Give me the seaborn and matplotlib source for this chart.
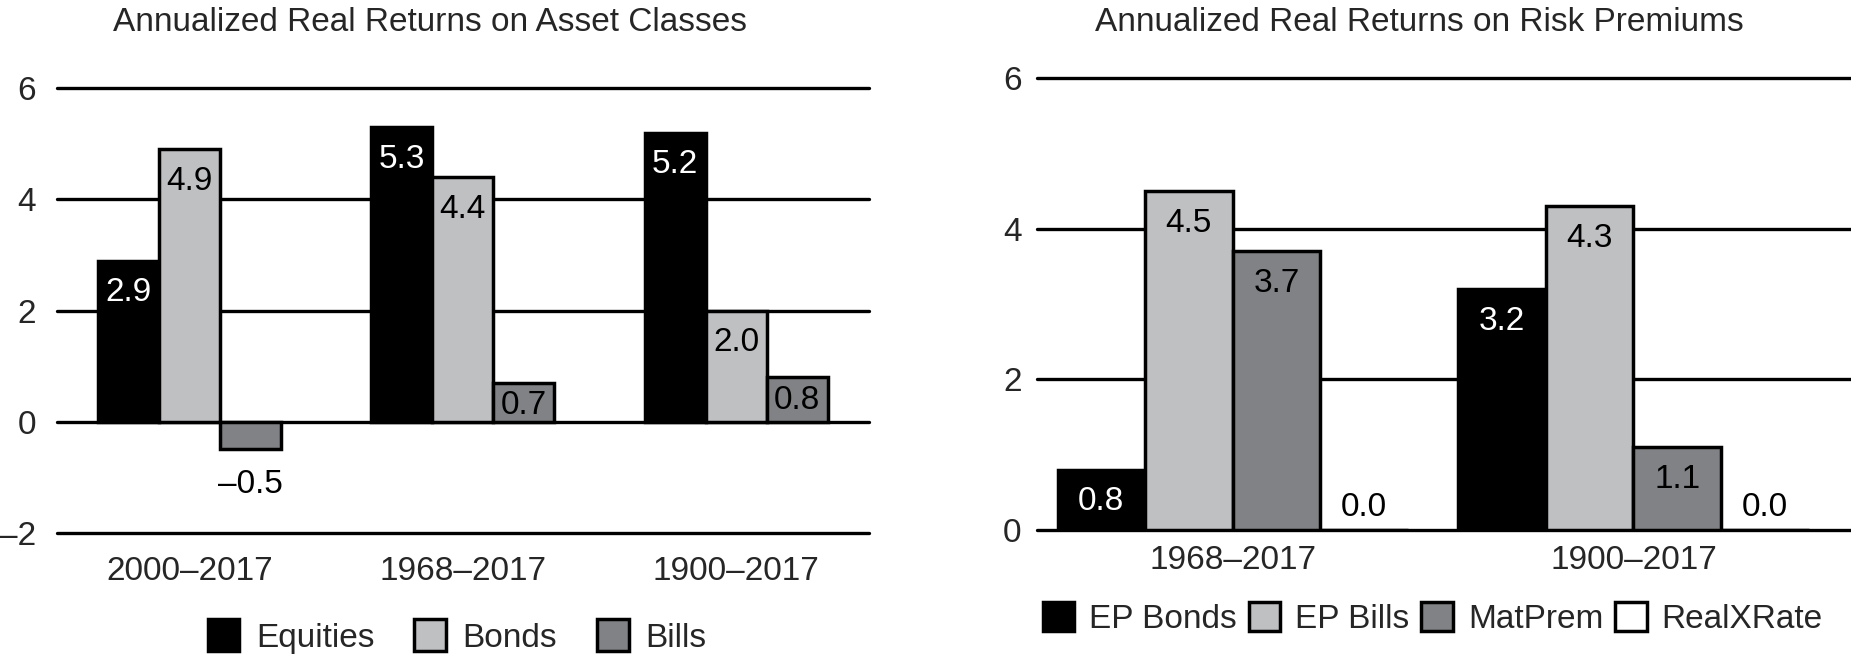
import pandas as pd
import matplotlib
matplotlib.use("Agg")
import matplotlib.pyplot as plt
from matplotlib.patches import Patch
import seaborn as sns

# ---------------------------------- DATA ----------------------------------
asset_periods = ["2000–2017", "1968–2017", "1900–2017"]
asset_series = ["Equities", "Bonds", "Bills"]
equities = [2.9, 5.3, 5.2]
bonds = [4.9, 4.4, 2.0]
bills = [-0.5, 0.7, 0.8]
asset_ticks = [-2, 0, 2, 4, 6]

premium_periods = ["1968–2017", "1900–2017"]
premium_series = ["EP Bonds", "EP Bills", "MatPrem", "RealXRate"]
ep_bonds = [0.8, 3.2]
ep_bills = [4.5, 4.3]
mat_prem = [3.7, 1.1]
real_xrate = [0.0, 0.0]
premium_ticks = [0, 2, 4, 6]

BLACK = "#000000"
LIGHT = "#bfc0c2"
DARK = "#808285"
WHITE = "#ffffff"

sns.set_style("white")
plt.rcParams["font.family"] = ["Liberation Sans", "DejaVu Sans"]
FS = 24
LW = 2.5


def long_frame(periods, names, columns):
    rows = []
    for name, vals in zip(names, columns):
        for p, v in zip(periods, vals):
            rows.append({"period": p, "series": name, "value": v})
    return pd.DataFrame(rows)


def draw_panel(fig, ax, periods, names, columns, colors, width, ticks, xlim, pads):
    df = long_frame(periods, names, columns)
    for t in ticks:
        ax.axhline(t, color="black", lw=2.4, zorder=0, clip_on=False)
    sns.barplot(data=df, x="period", y="value", hue="series", order=periods,
                hue_order=names, palette=dict(zip(names, colors)), width=width,
                saturation=1, edgecolor="black", linewidth=LW, legend=False,
                errorbar=None, ax=ax, zorder=2)
    ax.set_ylim(ticks[0], ticks[-1])
    ax.set_xlim(*xlim)
    # pixels per data unit, to keep labels inside short bars
    px_unit = ax.get_position().height * fig.get_figheight() * fig.dpi / (ticks[-1] - ticks[0])
    for cont, vals, col in zip(ax.containers, columns, colors):
        txt_col = "white" if col == BLACK else "black"
        for bar, v in zip(cont.patches, vals):
            xc = bar.get_x() + bar.get_width() / 2
            if v > 0.3:
                off = -12 if v * px_unit > 50 else -5.5
                ax.annotate(f"{v:.1f}", (xc, v), xytext=(0, off), textcoords="offset points",
                            ha="center", va="top", fontsize=FS, color=txt_col, zorder=5)
            elif v < 0:
                ax.annotate(f"{v:.1f}".replace("-", "–"), (xc, v), xytext=(0, -14),
                            textcoords="offset points", ha="center", va="top",
                            fontsize=FS, color="black", zorder=5)
            else:
                ax.annotate(f"{v:.1f}", (xc, v), xytext=(0, 5), textcoords="offset points",
                            ha="center", va="bottom", fontsize=FS, color="black", zorder=5)
    ax.set_yticks(ticks, labels=[str(t).replace("-", "–") for t in ticks])
    ax.set_xlabel("")
    ax.set_ylabel("")
    ax.tick_params(axis="both", length=0, labelsize=FS)
    ax.tick_params(axis="y", pad=pads[0])
    ax.tick_params(axis="x", pad=pads[1])
    for s in ax.spines.values():
        s.set_visible(False)


fig = plt.figure(figsize=(18.51, 6.55), dpi=100)
ax1 = fig.add_axes([0.0308, 0.1867, 0.4387, 0.6785])
ax2 = fig.add_axes([0.5602, 0.1908, 0.4398, 0.6896])

draw_panel(fig, ax1, asset_periods, asset_series, [equities, bonds, bills],
           [BLACK, LIGHT, DARK], 0.67, asset_ticks, (-0.486, 2.487), (15, 17))
draw_panel(fig, ax2, premium_periods, premium_series, [ep_bonds, ep_bills, mat_prem, real_xrate],
           [BLACK, LIGHT, DARK, WHITE], 0.874, premium_ticks, (-0.4885, 1.543), (11, 11))

fig.text(0.2323, 0.966, "Annualized Real Returns on Asset Classes", ha="center", va="center", fontsize=FS)
fig.text(0.7666, 0.966, "Annualized Real Returns on Risk Premiums", ha="center", va="center", fontsize=FS)

h1 = [Patch(facecolor=c, edgecolor="black", linewidth=LW) for c in [BLACK, LIGHT, DARK]]
fig.legend(h1, asset_series, loc="center", bbox_to_anchor=(0.247, 0.028), ncol=3, frameon=False,
           fontsize=FS, handlelength=0.95, handleheight=1.1, handletextpad=0.5, columnspacing=1.2)
h2 = [Patch(facecolor=c, edgecolor="black", linewidth=LW) for c in [BLACK, LIGHT, DARK, WHITE]]
fig.legend(h2, premium_series, loc="center", bbox_to_anchor=(0.774, 0.056), ncol=4, frameon=False,
           fontsize=FS, handlelength=0.95, handleheight=1.0, handletextpad=0.45, columnspacing=0.35)

fig.savefig("out.png", dpi=100)
plt.close(fig)
